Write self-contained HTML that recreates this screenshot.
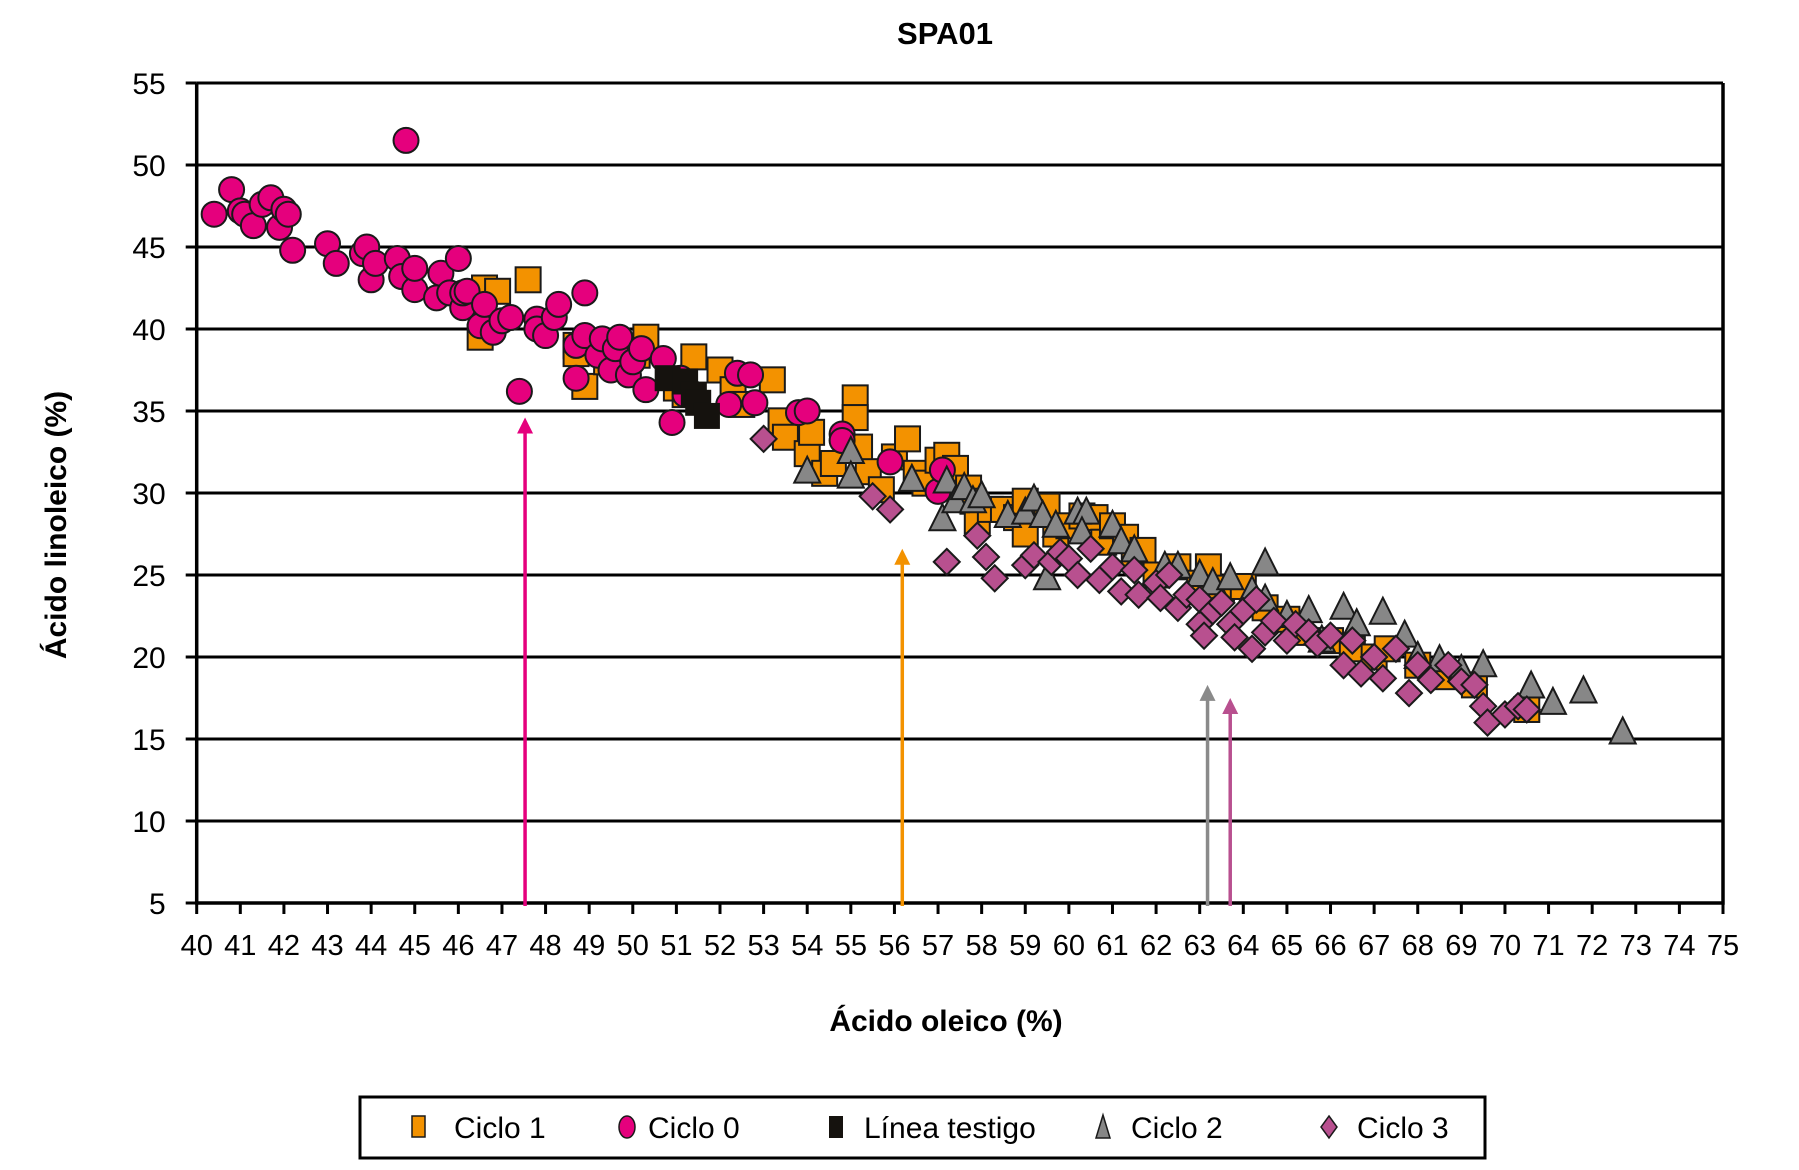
<!DOCTYPE html>
<html><head><meta charset="utf-8"><style>
html,body{margin:0;padding:0;background:#fff;}
svg{display:block;font-family:"Liberation Sans",Arial,sans-serif;}
</style></head><body>
<svg id="chart" width="1799" height="1170" viewBox="0 0 1799 1170" xmlns="http://www.w3.org/2000/svg">
<text x="945" y="44" font-size="31" font-weight="bold" text-anchor="middle">SPA01</text>
<text x="0" y="0" font-size="30" font-weight="bold" text-anchor="middle" transform="translate(66,525) rotate(-90)">Ácido linoleico (%)</text>
<text x="946" y="1031" font-size="30" font-weight="bold" text-anchor="middle">Ácido oleico (%)</text>
<g id="grid"></g>
<g id="axes"></g>
<g id="marks"></g>
<g id="arrows"></g>
<g>
<rect x="360" y="1097" width="1125" height="61" fill="#fff" stroke="#000" stroke-width="3"/>
<g><rect x="412" y="1116" width="13" height="21" fill="#f39200" stroke="#1a1a1a" stroke-width="1.5"/><text x="454" y="1138" font-size="30">Ciclo 1</text></g>
<g><ellipse cx="627" cy="1127" rx="8" ry="11" fill="#e5007d" stroke="#1a1a1a" stroke-width="1.5"/><text x="648" y="1138" font-size="30">Ciclo 0</text></g>
<g><rect x="829" y="1116" width="14" height="22" fill="#15120e"/><text x="864" y="1138" font-size="30">Línea testigo</text></g>
<g><polygon points="1103,1115 1110,1138 1096,1138" fill="#878787" stroke="#1a1a1a" stroke-width="1.5"/><text x="1131" y="1138" font-size="30">Ciclo 2</text></g>
<g><polygon points="1329,1116 1337,1127 1329,1138 1321,1127" fill="#b8508f" stroke="#1a1a1a" stroke-width="1.5"/><text x="1357" y="1138" font-size="30">Ciclo 3</text></g>
</g>
</svg>
<script>
const xTicks=[40,41,42,43,44,45,46,47,48,49,50,51,52,53,54,55,56,57,58,59,60,61,62,63,64,65,66,67,68,69,70,71,72,73,74,75];
const yTicks=[5,10,15,20,25,30,35,40,45,50,55];
const ciclo1X=[46.6,46.9,46.5,47.6,48.7,48.9,48.7,49.4,50.3,50.1,51.0,51.2,51.4,52,52.3,52.5,53.2,53.4,53.5,54,54.1,54.4,54.6,55.1,55.1,55.2,55.4,55.7,56.0,56.3,56.5,56.7,57,57.2,57.4,57.7,57.8,57.9,58.2,58.5,58.8,59,59,59.5,59.7,60,60.3,60.6,60.8,61,61.3,61.5,61.7,62,62.5,63,63.2,63.5,64,64.5,65,65.3,66,66.5,67,67.3,68,68.7,69.3,70.5];
const ciclo1Y=[42.5,42.3,39.5,43,39,36.5,38.5,38,39.5,38.4,36.4,36.0,38.3,37.5,36.3,35.4,36.9,34.4,33.4,32.4,33.7,31.2,31.8,35.8,34.6,32.8,31.3,30.2,32.2,33.3,31.2,30.6,32,32.3,31.5,30.3,29.5,28.3,29,29,28.5,29.5,27.5,29.2,27.5,28,28.6,28.5,27,28,27.3,26,26.5,25,25.5,24.5,25.5,24.2,24.3,23,22.3,21.5,21,20.5,20,20.5,19.5,18.8,18.3,16.8];
const ciclo0X=[40.4,40.8,41,41.1,41.3,41.5,41.7,41.9,42,42.1,42.2,43,43.2,43.8,43.9,44,44.1,44.6,44.7,44.8,45,45,45.5,45.6,45.8,46,46.1,46.1,46.2,46.5,46.6,46.8,47,47.2,47.4,47.8,47.8,48,48.2,48.3,48.7,48.7,48.9,48.9,49.2,49.3,49.5,49.6,49.7,49.9,50,50.2,50.3,50.7,50.9,51.1,51.2,52.2,52.4,52.7,52.8,53.8,54,54.8,54.8,55.9,57,57.1];
const ciclo0Y=[47,48.5,47.2,47,46.3,47.6,48,46.2,47.3,47,44.8,45.2,44,44.6,45,43,44,44.3,43.2,51.5,42.4,43.7,41.9,43.4,42.2,44.3,41.3,42.2,42.3,40.2,41.5,39.8,40.5,40.7,36.2,40.6,40,39.6,40.7,41.5,37,39,39.6,42.2,38.4,39.4,37.5,38.8,39.5,37.2,38,38.8,36.3,38.2,34.3,37,36,35.4,37.3,37.2,35.5,34.9,35,33.6,33.2,31.9,30.1,31.4];
const testigoX=[50.8,51.2,51.4,51.5,51.7];
const testigoY=[37,36.8,36,35.5,34.7];
const ciclo2X=[54,55,55,56.4,57.1,57.2,57.4,57.6,57.8,58,58.6,59,59.2,59.4,59.5,59.7,60.2,60.4,60.3,61,61.2,61.5,62.2,62.5,63,63.3,63.7,64.2,64.5,64.5,65,65.5,65.8,66.3,66.6,67.2,67.7,68,68.5,69,69.5,70.6,71.1,71.8,72.7];
const ciclo2Y=[31.3,32.5,31,30.8,28.4,30.7,29.5,30.3,29.5,29.8,28.6,28.8,29.6,28.6,24.8,28,28.8,28.8,27.6,28,27,26.5,25.5,25.5,25,24.5,24.8,24,25.7,23.5,22.5,22.8,21,23,22,22.7,21.3,20,19.8,19.2,19.5,18.2,17.2,17.9,15.4];
const ciclo3X=[53,55.5,55.9,57.2,57.9,58.1,58.3,59,59.2,59.6,59.8,60,60.2,60.5,60.7,61,61.2,61.5,61.6,62,62.1,62.3,62.5,62.7,63,63,63.1,63.3,63.5,63.7,63.8,64,64.2,64.3,64.5,64.7,65,65.2,65.5,65.7,66,66.3,66.5,66.7,67,67.2,67.5,67.8,68,68.3,68.7,69,69.3,69.5,69.6,70,70.3,70.5];
const ciclo3Y=[33.3,29.8,29,25.8,27.4,26.1,24.8,25.6,26.2,25.8,26.4,26,25,26.6,24.7,25.5,24,25.3,23.8,24.5,23.6,25,23,23.8,22,23.5,21.3,22.8,23.3,22,21.2,22.8,20.5,23.5,21.5,22.2,21,22,21.5,20.8,21.3,19.5,21,19,20,18.7,20.5,17.8,19.5,18.6,19.5,18.5,18.3,17,16,16.5,17,16.8];
const arrowX=[47.53,56.18,63.18,63.7];
const arrowTipY=[34.6,26.6,18.3,17.5];
const arrowColors=['#e5007d','#f39200','#8a8a8a','#b8508f'];

const NS='http://www.w3.org/2000/svg';
const X0=196.7,X1=1723,Y0=903,Y1=83;
function sx(v){return X0+(v-40)/(75-40)*(X1-X0);}
function sy(v){return Y0-(v-5)/(55-5)*(Y0-Y1);}
function mk(tag,attrs,parent){const e=document.createElementNS(NS,tag);for(const k in attrs)e.setAttribute(k,attrs[k]);parent.appendChild(e);return e;}
const grid=document.getElementById('grid'),axes=document.getElementById('axes'),marks=document.getElementById('marks'),arrows=document.getElementById('arrows');
yTicks.forEach(t=>{
  if(t>5){const l=mk('line',{x1:X0,x2:X1,y1:sy(t),y2:sy(t),stroke:'#000','stroke-width':3},grid);
  
  }
  const tk=mk('line',{x1:X0-11,x2:X0,y1:sy(t),y2:sy(t),stroke:'#000','stroke-width':3},axes);
  
  
  const tx=mk('text',{x:X0-31,y:sy(t)+11,'font-size':30,'text-anchor':'end'},axes);tx.textContent=t;
  
  
});
xTicks.forEach(t=>{
  const tk=mk('line',{x1:sx(t),x2:sx(t),y1:Y0,y2:Y0+11,stroke:'#000','stroke-width':3},axes);
  
  
  const tx=mk('text',{x:sx(t),y:Y0+52,'font-size':29,'text-anchor':'middle'},axes);tx.textContent=t;
  
  
});
const ax=mk('path',{d:`M${X0},${Y1} L${X0},${Y0} L${X1},${Y0} L${X1},${Y1}`,fill:'none',stroke:'#000','stroke-width':3.5},axes);


const ST={stroke:'#1a1a1a','stroke-width':2};
function series(xs,ys,kind,name){
  xs.forEach((v,i)=>{
    const cx=sx(v),cy=sy(ys[i]);let e;
    if(kind==='sq')e=mk('rect',Object.assign({x:cx-12.5,y:cy-12.5,width:25,height:25,fill:'#f39200'},ST),marks);
    else if(kind==='ci')e=mk('circle',Object.assign({cx:cx,cy:cy,r:12.5,fill:'#e5007d'},ST),marks);
    else if(kind==='bl')e=mk('rect',{x:cx-13,y:cy-13,width:26,height:26,fill:'#15120e'},marks);
    else if(kind==='tr')e=mk('polygon',Object.assign({points:`${cx},${cy-15} ${cx+13},${cy+11} ${cx-13},${cy+11}`,fill:'#878787'},ST),marks);
    else e=mk('polygon',Object.assign({points:`${cx},${cy-13} ${cx+13},${cy} ${cx},${cy+13} ${cx-13},${cy}`,fill:'#b8508f'},ST),marks);
    
    
  });
}
series(ciclo1X,ciclo1Y,'sq','point-ciclo1');
series(ciclo0X,ciclo0Y,'ci','point-ciclo0');
series(testigoX,testigoY,'bl','point-linea-testigo');
series(ciclo2X,ciclo2Y,'tr','point-ciclo2');
series(ciclo3X,ciclo3Y,'di','point-ciclo3');
arrowX.forEach((v,i)=>{
  const x=sx(v),ty=sy(arrowTipY[i]),c=arrowColors[i];
  const l=mk('line',{x1:x,x2:x,y1:Y0+3,y2:ty+14,stroke:c,'stroke-width':3.5},arrows);
  
  
  const h=mk('polygon',{points:`${x},${ty} ${x+8},${ty+16} ${x-8},${ty+16}`,fill:c},arrows);
  
  
});
</script>
</body></html>
